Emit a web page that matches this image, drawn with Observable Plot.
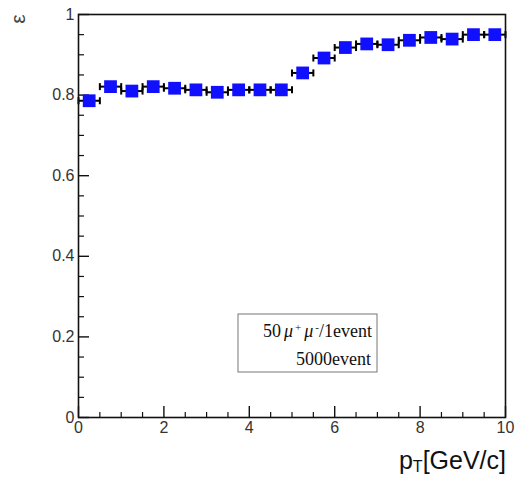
<!DOCTYPE html>
<html>
<head>
<meta charset="utf-8">
<script src="https://cdn.jsdelivr.net/npm/d3@7"></script>
<script src="https://cdn.jsdelivr.net/npm/@observablehq/plot@0.6"></script>
<style>
  body { margin: 0; background: #fff; }
  #chart svg { display: block; }
</style>
</head>
<body>
<div id="chart"></div>
<script>
// Muon reconstruction efficiency versus transverse momentum, 0.5 GeV/c bins
const binCenters = [0.25, 0.75, 1.25, 1.75, 2.25, 2.75, 3.25, 3.75, 4.25, 4.75,
                    5.25, 5.75, 6.25, 6.75, 7.25, 7.75, 8.25, 8.75, 9.25, 9.75];
const binHalfWidth = 0.25;
const efficiency = [0.786, 0.821, 0.810, 0.821, 0.817, 0.813, 0.807, 0.813, 0.813, 0.813,
                    0.855, 0.892, 0.918, 0.927, 0.925, 0.936, 0.943, 0.939, 0.950, 0.950];

// Axis ticks
const xMajorTicks = [0, 2, 4, 6, 8, 10];
const xMinorTicks = [0.5, 1, 1.5, 2.5, 3, 3.5, 4.5, 5, 5.5, 6.5, 7, 7.5, 8.5, 9, 9.5];
const yMajorTicks = [0, 0.2, 0.4, 0.6, 0.8, 1];
const yMinorTicks = [0.05, 0.1, 0.15, 0.25, 0.3, 0.35, 0.45, 0.5, 0.55,
                     0.65, 0.7, 0.75, 0.85, 0.9, 0.95];

// Texts
const yTitle = "ε";
const xTitleMain = "p";
const xTitleSub = "T";
const xTitleUnit = "[GeV/c]";
const legendLine1 = [["50", "normal"], ["μ", "italic"], ["+", "sup"], ["μ", "italic"], ["-", "sup"], ["/1event", "normal"]];
const legendLine2 = "5000event";

const W = 520, H = 478;
const M = {top: 14, right: 15, bottom: 61, left: 78};
const innerW = W - M.left - M.right;
const innerH = H - M.top - M.bottom;

const points = binCenters.map((x, i) => ({x, y: efficiency[i], x1: x - binHalfWidth, x2: x + binHalfWidth}));

// vertical end-cap for the horizontal error bars
const capSymbol = {
  draw(context, size) {
    const h = 3.5;
    context.moveTo(0, -h);
    context.lineTo(0, h);
  }
};

const font = "'Liberation Sans', Arial, Helvetica, sans-serif";

const plot = Plot.plot({
  width: W,
  height: H,
  marginTop: M.top,
  marginRight: M.right,
  marginBottom: M.bottom,
  marginLeft: M.left,
  style: {fontFamily: font, background: "#fff"},
  x: {domain: [0, 10]},
  y: {domain: [0, 1]},
  marks: [
    // inward ticks
    Plot.tickX(xMajorTicks, {x: d => d, insetTop: innerH - 11, stroke: "#111", strokeWidth: 1.4}),
    Plot.tickX(xMinorTicks, {x: d => d, insetTop: innerH - 5, stroke: "#111", strokeWidth: 1.2}),
    Plot.tickY(yMajorTicks, {y: d => d, insetRight: innerW - 11, stroke: "#111", strokeWidth: 1.4}),
    Plot.tickY(yMinorTicks, {y: d => d, insetRight: innerW - 6, stroke: "#111", strokeWidth: 1.2}),
    Plot.axisX({ticks: xMajorTicks, tickSize: 0, tickPadding: 4, tickFormat: d => String(d),
                fontSize: 16, color: "#333", label: null}),
    Plot.axisY({ticks: yMajorTicks, tickSize: 0, tickPadding: 4, tickFormat: d => String(d),
                fontSize: 16, color: "#333", label: null}),
    // horizontal error bars (bin width)
    Plot.link(points, {x1: "x1", x2: "x2", y1: "y", y2: "y", stroke: "#000", strokeWidth: 2}),
    Plot.dot(points, {x: "x1", y: "y", symbol: capSymbol, stroke: "#000", strokeWidth: 2, r: 3}),
    Plot.dot(points, {x: "x2", y: "y", symbol: capSymbol, stroke: "#000", strokeWidth: 2, r: 3}),
    // markers
    Plot.dot(points, {x: "x", y: "y", symbol: "square", r: 7.2, fill: "#1010ff", stroke: null}),
    Plot.frame({stroke: "#111", strokeWidth: 1.6})
  ]
});

document.getElementById("chart").appendChild(plot);

const svg = d3.select(plot);

// y title, rotated
svg.append("text")
  .attr("transform", "translate(25,19) rotate(-90)")
  .attr("text-anchor", "middle")
  .attr("font-family", font)
  .attr("font-size", 21)
  .attr("fill", "#444")
  .text(yTitle);

// x title with subscript
const xt = svg.append("text")
  .attr("x", W - M.right + 1)
  .attr("y", 469)
  .attr("text-anchor", "end")
  .attr("font-family", font)
  .attr("font-size", 25)
  .attr("fill", "#111");
xt.append("tspan").text(xTitleMain);
xt.append("tspan").attr("font-size", 16).attr("dy", 3).text(xTitleSub);
xt.append("tspan").attr("dy", -3).text(xTitleUnit);

// legend box
const box = {x: 238, y: 314, w: 139, h: 58};
svg.append("rect")
  .attr("x", box.x).attr("y", box.y).attr("width", box.w).attr("height", box.h)
  .attr("fill", "#fff").attr("stroke", "#777").attr("stroke-width", 1);

const serif = "'Liberation Serif', 'Times New Roman', serif";
const l1 = svg.append("text")
  .attr("x", 372).attr("y", 337)
  .attr("text-anchor", "end")
  .attr("font-family", serif)
  .attr("font-size", 18)
  .attr("fill", "#111");
let shift = 0;
for (const [t, kind] of legendLine1) {
  const s = l1.append("tspan").text(t);
  if (kind === "italic") s.attr("font-style", "italic").attr("dx", 3);
  if (kind === "sup") {
    s.attr("font-size", 11).attr("dy", -6 - shift).attr("dx", 2);
    shift = -6;
  } else {
    s.attr("dy", -shift);
    shift = 0;
  }
}
svg.append("text")
  .attr("x", 371).attr("y", 365)
  .attr("text-anchor", "end")
  .attr("font-family", serif)
  .attr("font-size", 18)
  .attr("fill", "#111")
  .text(legendLine2);
</script>
</body>
</html>
